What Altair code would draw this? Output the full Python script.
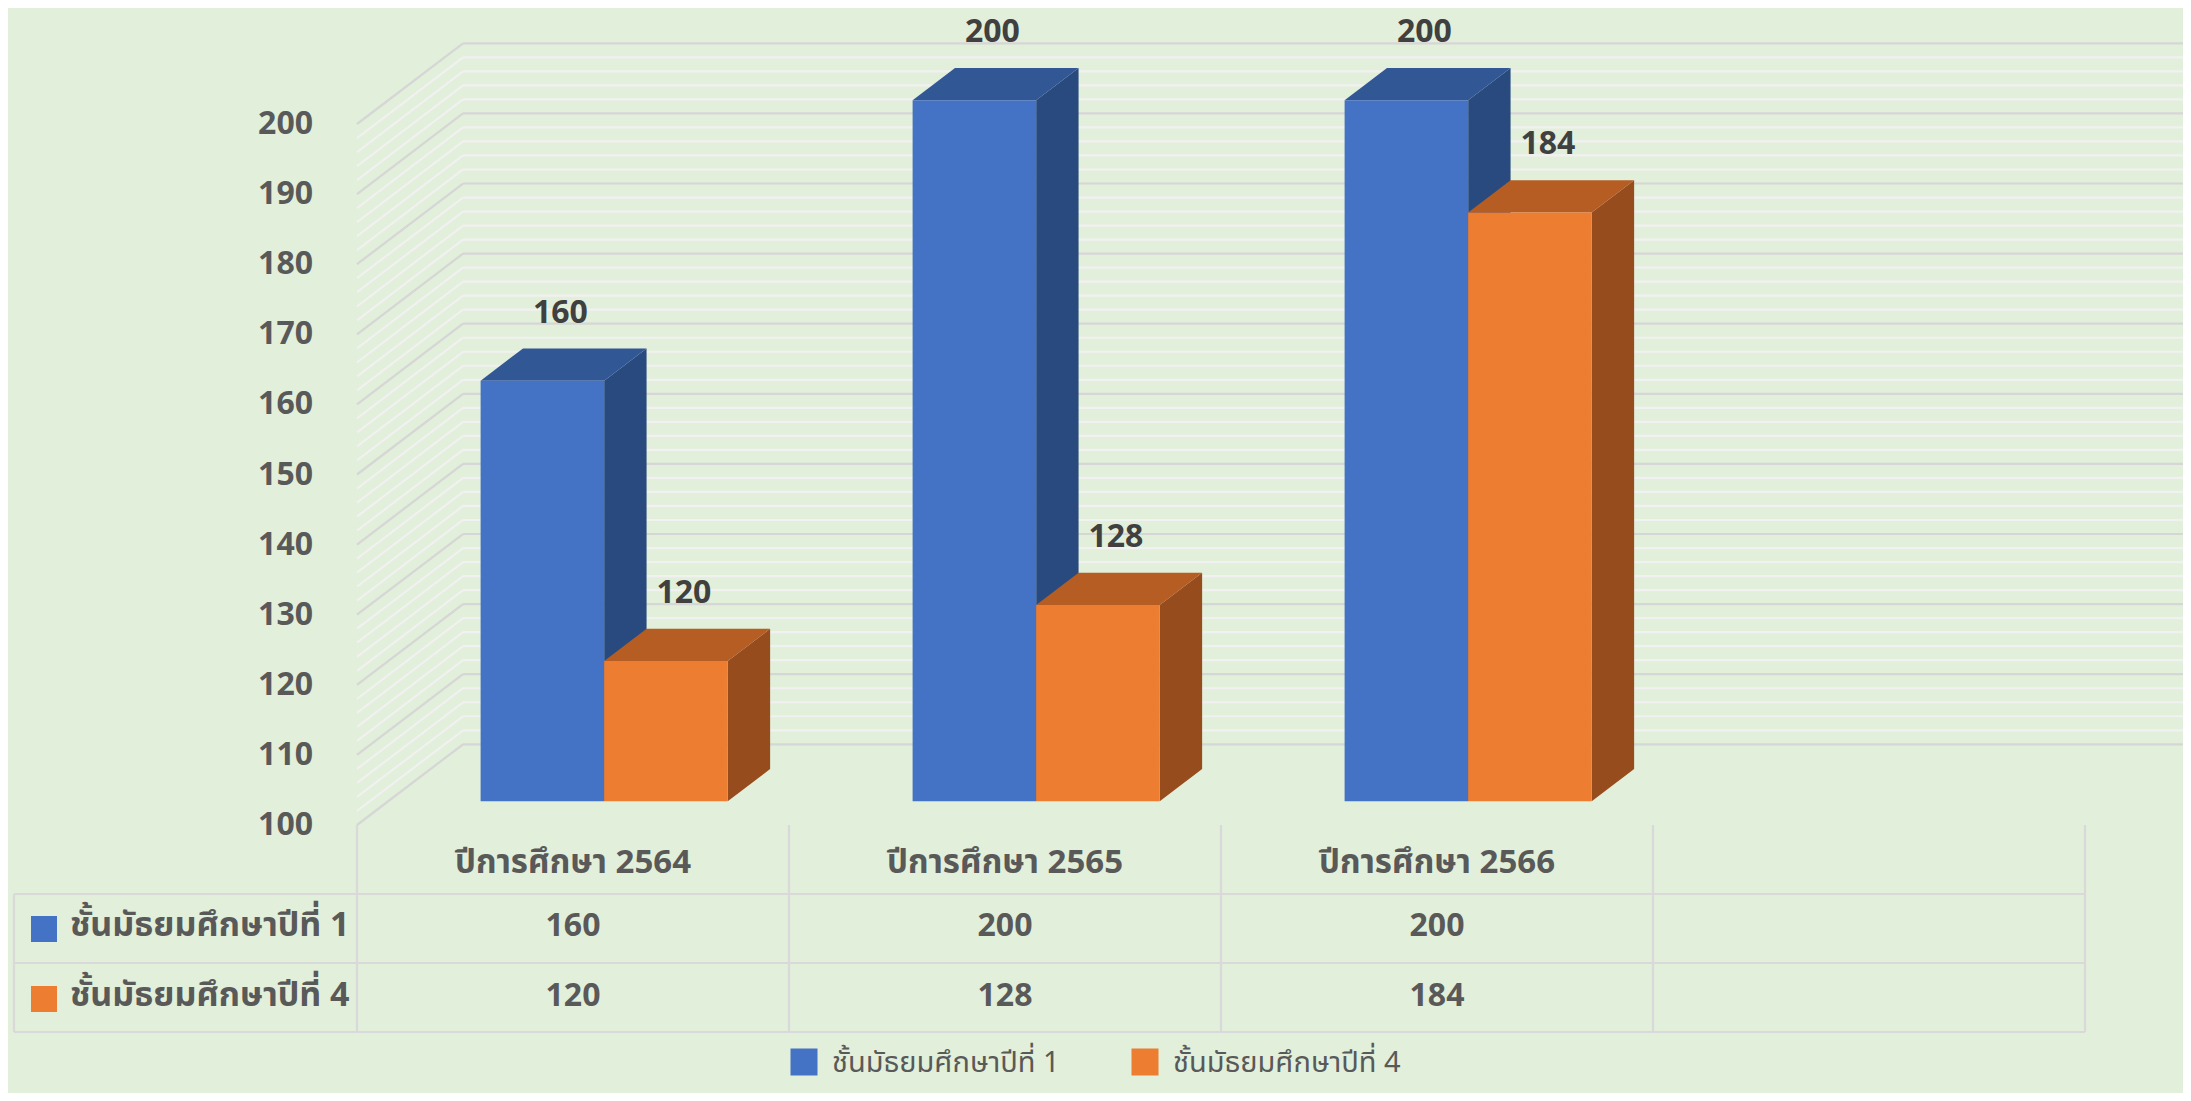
import altair as alt
import pandas as pd

# ---------------- data ----------------
categories = ["ปีการศึกษา 2564", "ปีการศึกษา 2565", "ปีการศึกษา 2566"]
series = ["ชั้นมัธยมศึกษาปีที่ 1", "ชั้นมัธยมศึกษาปีที่ 4"]
values_m1 = [160, 200, 200]
values_m4 = [120, 128, 184]
major_ticks = [100, 110, 120, 130, 140, 150, 160, 170, 180, 190, 200]
minor_ticks = list(range(100, 201, 2))

# ---------------- style ----------------
BG = "#E2EFDA"
FRONT = ["#4472C4", "#ED7D31"]
TOP = ["#325795", "#B55D22"]
SIDE = ["#294A7E", "#974C1D"]
GRID_MAJOR = "#D6D6D6"
GRID_MINOR = "#F1F1F1"
TABLE_LINE = "#D9D9D9"
FONT = "Noto Sans Thai, Noto Sans, DejaVu Sans, sans-serif"
NUM_SIZE = 32

W, H = 2175, 1085
N_SLOTS = len(categories) + 1          # table has one empty extra column
BASE = 100
# oblique 3-D projection (depth expressed in axis units)
DX, DV = 0.2454, 11.51
D0, D1 = 0.294, 0.694                  # bar front / back depth
BW = 0.286                             # bar width (category units)

xs = alt.Scale(domain=[0, N_SLOTS], range=[349, 2077], nice=False, zero=False)
ys = alt.Scale(domain=[100, 200], range=[817, 116], nice=False, zero=False)

# ---------------- geometry from data ----------------
fronts, tops, sides, labels = [], [], [], []
for ci, cat in enumerate(categories):
    for si, (s, vals) in enumerate(zip(series, [values_m1, values_m4])):
        v = vals[ci]
        bid = f"b{ci}{si}"
        ul = ci + 0.5 - BW + si * BW + D0 * DX
        ur = ul + BW
        vb = BASE + D0 * DV
        vt = v + D0 * DV
        ddx = (D1 - D0) * DX
        ddv = (D1 - D0) * DV
        fronts.append(dict(id=bid, ul=ul, ur=ur, vb=vb, vt=vt, fill=FRONT[si]))
        labels.append(dict(xc=(ul + ur) / 2, vt=vt, txt=str(v)))
        for (x, y, y2) in [(ul, vt, vt), (ul + ddx, vt, vt + ddv),
                           (ur, vt, vt + ddv), (ur + ddx, vt + ddv, vt + ddv)]:
            tops.append(dict(id=bid, px=x, lo=y, hi=y2, fill=TOP[si]))
        for (x, y, y2) in [(ur, vb, vt), (ur + ddx, vb + ddv, vt + ddv)]:
            sides.append(dict(id=bid, px=x, lo=y, hi=y2, fill=SIDE[si]))

fronts = pd.DataFrame(fronts)
tops = pd.DataFrame(tops)
sides = pd.DataFrame(sides)
labels = pd.DataFrame(labels)

# ---------------- walls / grid ----------------
def grid_df(ticks):
    return pd.DataFrame({"v": ticks, "vb": [t + DV for t in ticks],
                         "x0": 0.0, "x1": DX, "x2": N_SLOTS + 0.4})

minor_df = grid_df([t for t in minor_ticks if t not in major_ticks])
major_df = grid_df(major_ticks)

def back_lines(df, color):
    return alt.Chart(df).mark_rule(color=color, strokeWidth=2.2).encode(
        x=alt.X("x1:Q", scale=xs, axis=None), x2="x2:Q",
        y=alt.Y("vb:Q", scale=ys, axis=None))

def side_lines(df, color):
    return alt.Chart(df).mark_rule(color=color, strokeWidth=2.2).encode(
        x=alt.X("x0:Q", scale=xs, axis=None), x2="x1:Q",
        y=alt.Y("v:Q", scale=ys, axis=None), y2="vb:Q")

walls = [back_lines(minor_df, GRID_MINOR), side_lines(minor_df, GRID_MINOR),
         back_lines(major_df, GRID_MAJOR), side_lines(major_df, GRID_MAJOR)]

# ---------------- bars ----------------
def face_area(df):
    return alt.Chart(df).mark_area(interpolate="linear", opacity=1).encode(
        x=alt.X("px:Q", scale=xs, axis=None),
        y=alt.Y("lo:Q", scale=ys, axis=None, stack=None),
        y2=alt.Y2("hi:Q"),
        color=alt.Color("fill:N", scale=None),
        detail="id:N")

side_layer = face_area(sides)
top_layer = face_area(tops)
front_layer = alt.Chart(fronts).mark_rect().encode(
    x=alt.X("ul:Q", scale=xs, axis=None), x2="ur:Q",
    y=alt.Y("vb:Q", scale=ys, axis=None), y2="vt:Q",
    color=alt.Color("fill:N", scale=None))

label_layer = alt.Chart(labels).mark_text(
    font=FONT, fontSize=NUM_SIZE, fontWeight="bold", color="#404040",
    dx=18, dy=-68, baseline="middle", align="center").encode(
    x=alt.X("xc:Q", scale=xs, axis=None), y=alt.Y("vt:Q", scale=ys, axis=None),
    text="txt:N")

# ---------------- y axis labels ----------------
ytick_df = pd.DataFrame({"v": major_ticks, "txt": [str(t) for t in major_ticks]})
yaxis_layer = alt.Chart(ytick_df).mark_text(
    font=FONT, fontSize=NUM_SIZE, fontWeight="bold", color="#595959",
    align="right", baseline="middle").encode(
    x=alt.value(305), y=alt.Y("v:Q", scale=ys, axis=None), text="txt:N")

# ---------------- data table ----------------
col_df = pd.DataFrame({"u": list(range(N_SLOTS + 1))})
table_layers = [
    alt.Chart(col_df).mark_rule(color=TABLE_LINE, strokeWidth=2.2).encode(
        x=alt.X("u:Q", scale=xs, axis=None), y=alt.value(817), y2=alt.value(1024)),
    alt.Chart(col_df.head(1)).mark_rule(color=TABLE_LINE, strokeWidth=2.2).encode(
        x=alt.value(6), y=alt.value(886), y2=alt.value(1024)),
]
for py in [886, 955, 1024]:
    table_layers.append(
        alt.Chart(col_df.head(1)).mark_rule(color=TABLE_LINE, strokeWidth=2.2).encode(
            x=alt.value(6), x2=alt.value(2077), y=alt.value(py)))

hdr_df = pd.DataFrame({"u": [i + 0.5 for i in range(len(categories))], "txt": categories})
table_layers.append(
    alt.Chart(hdr_df).mark_text(font=FONT, fontSize=33, fontWeight="bold", color="#595959",
                                baseline="middle").encode(
        x=alt.X("u:Q", scale=xs, axis=None), y=alt.value(855), text="txt:N"))

row_y = [918, 988]
for si, (s, vals) in enumerate(zip(series, [values_m1, values_m4])):
    cell_df = pd.DataFrame({"u": [i + 0.5 for i in range(len(categories))],
                            "txt": [str(v) for v in vals]})
    table_layers.append(
        alt.Chart(cell_df).mark_text(font=FONT, fontSize=NUM_SIZE, fontWeight="bold",
                                     color="#595959", baseline="middle").encode(
            x=alt.X("u:Q", scale=xs, axis=None), y=alt.value(row_y[si]), text="txt:N"))
    hdr = pd.DataFrame({"txt": [s]})
    table_layers.append(
        alt.Chart(hdr).mark_square(size=676, color=FRONT[si], opacity=1).encode(
            x=alt.value(36), y=alt.value(row_y[si] + 3)))
    table_layers.append(
        alt.Chart(hdr).mark_text(font=FONT, fontSize=34, fontWeight="bold", color="#595959",
                                 align="left", baseline="middle").encode(
            x=alt.value(62), y=alt.value(row_y[si]), text="txt:N"))

# ---------------- legend ----------------
legend_x = [796, 1137]
legend_layers = []
for si, s in enumerate(series):
    d = pd.DataFrame({"txt": [s]})
    legend_layers.append(
        alt.Chart(d).mark_square(size=729, color=FRONT[si], opacity=1).encode(
            x=alt.value(legend_x[si]), y=alt.value(1054)))
    legend_layers.append(
        alt.Chart(d).mark_text(font=FONT, fontSize=29, color="#595959",
                               align="left", baseline="alphabetic").encode(
            x=alt.value(legend_x[si] + 28), y=alt.value(1064), text="txt:N"))

chart = alt.layer(
    *walls, side_layer, top_layer, front_layer, label_layer, yaxis_layer,
    *table_layers, *legend_layers
).properties(
    width=W, height=H,
    autosize=alt.AutoSizeParams(type="none"),
    padding=0,
    background=BG,
).configure_view(stroke=None)

chart.save("out.html", embed_options={"renderer": "svg", "actions": False})
